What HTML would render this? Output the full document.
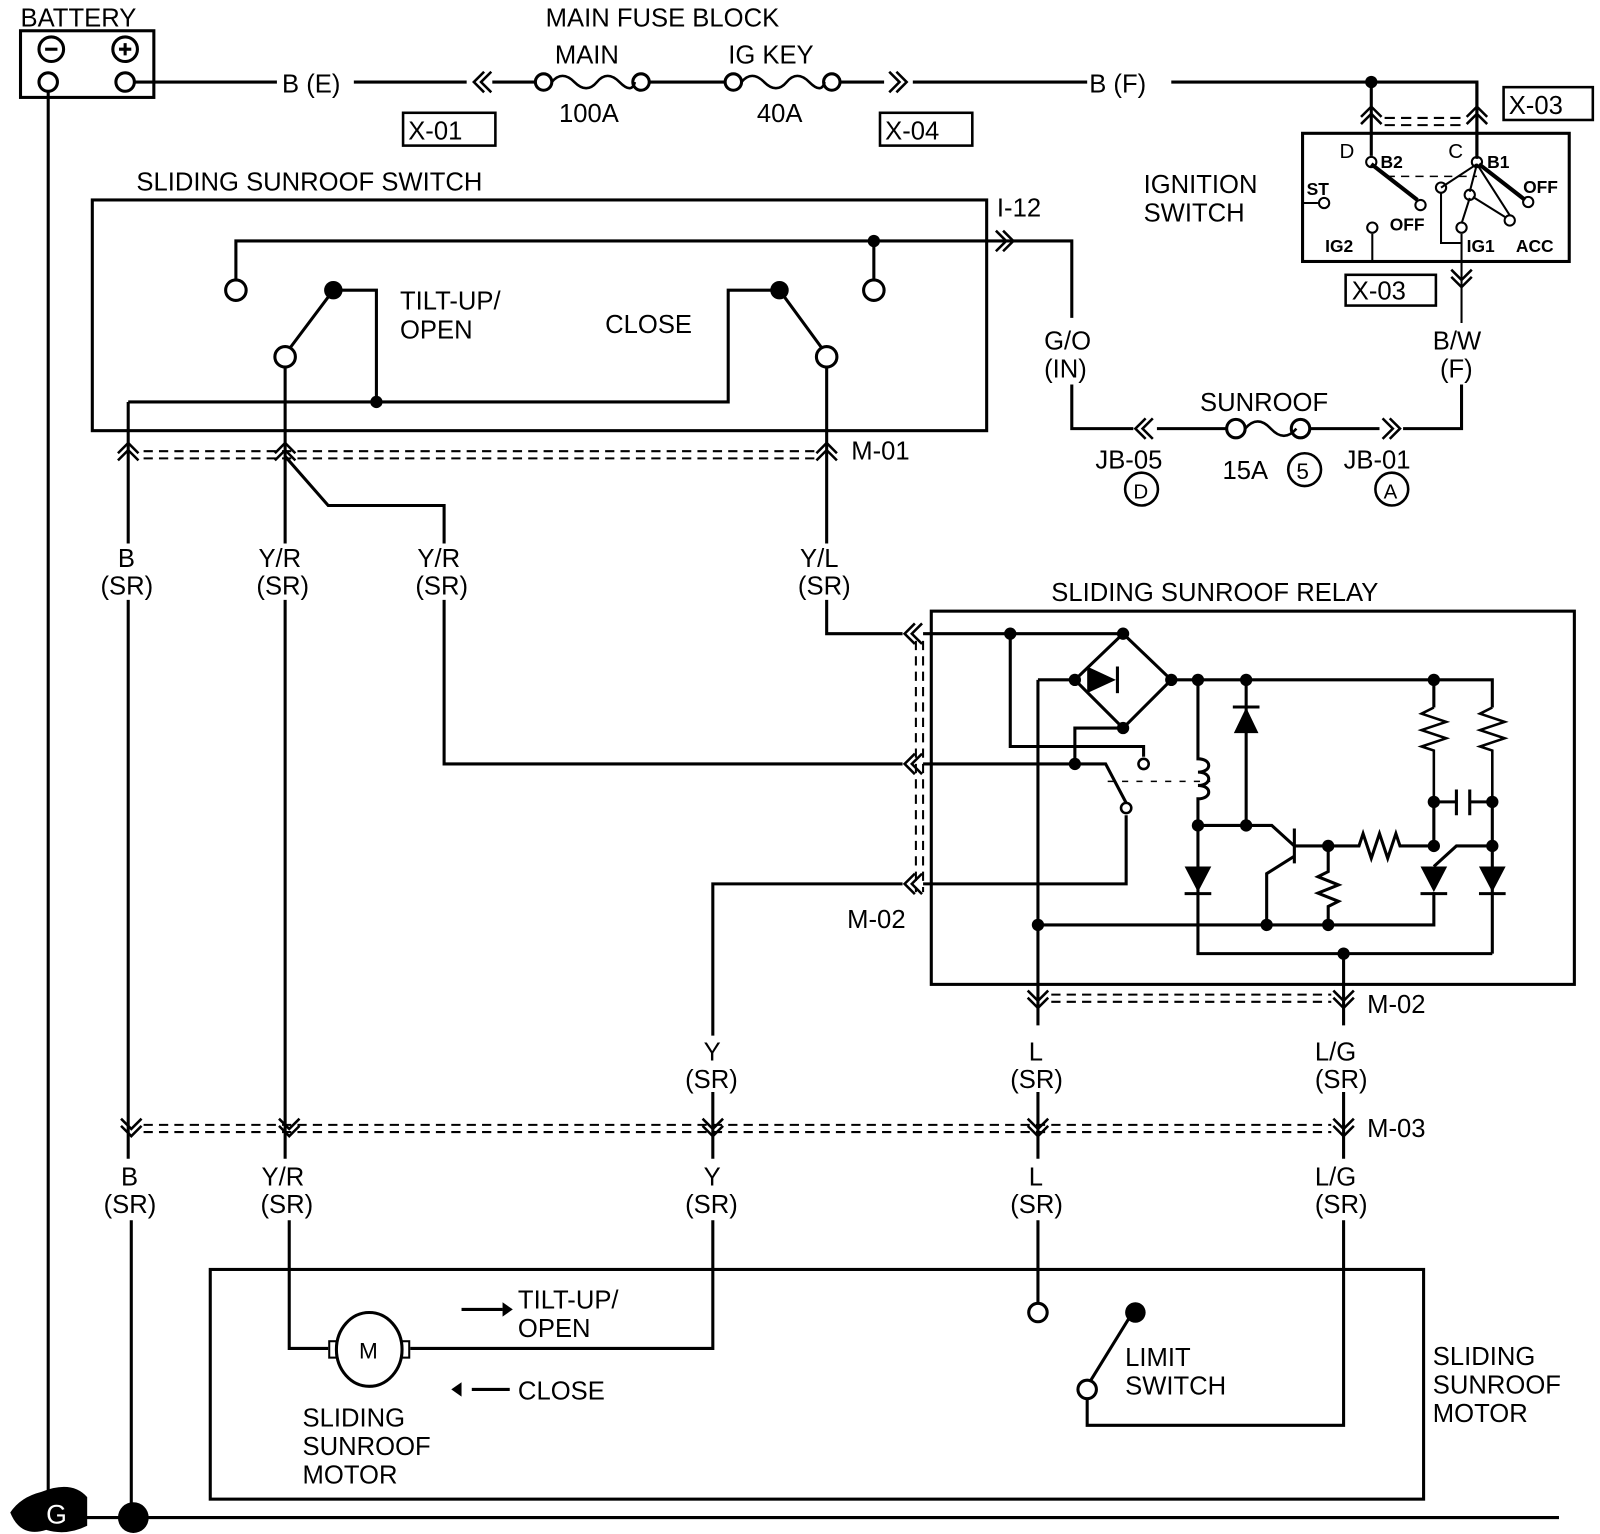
<!DOCTYPE html>
<html><head><meta charset="utf-8"><style>
html,body{margin:0;padding:0;background:#fff;}
svg{display:block;}
text{font-family:"Liberation Sans",sans-serif;font-size:25px;fill:#000;}
</style></head><body>
<svg width="1600" height="1534" viewBox="0 0 1560 1496" preserveAspectRatio="none" xmlns="http://www.w3.org/2000/svg">
<defs>
<g id="vc" fill="none" stroke="#000" stroke-width="2.5"><path d="M-10,2 L0,-8 L10,2 M-10,9 L0,-1 L10,9"/></g>
<g id="vd" fill="none" stroke="#000" stroke-width="2.5"><path d="M-10,-9 L0,1 L10,-9 M-10,-2 L0,8 L10,-2"/></g>
<g id="hl" fill="none" stroke="#000" stroke-width="2.5"><path d="M2,-10 L-8,0 L2,10 M9,-10 L-1,0 L9,10"/></g>
<g id="hr" fill="none" stroke="#000" stroke-width="2.5"><path d="M-9,-10 L1,0 L-9,10 M-2,-10 L8,0 L-2,10"/></g>
</defs>
<g fill="none" stroke="#000" stroke-width="3">
<rect x="20" y="30" width="130" height="65"/>
<circle cx="50" cy="48" r="12"/><circle cx="122" cy="48" r="12"/>
<circle cx="47" cy="80" r="9"/><circle cx="122" cy="80" r="9"/>
<path d="M131,80 H270 M345,80 H455 M480,80 H522 M633,80 H708 M819,80 H862 M890,80 H1060 M1142,80 H1440 V155"/>
<path d="M538,80 q10,-12 22,0 t22,0 t22,0 t15,0" stroke-width="2.5"/>
<circle cx="530" cy="80" r="8"/><circle cx="625" cy="80" r="8"/>
<path d="M723,80 q10,-12 22,0 t22,0 t22,0 t15,0" stroke-width="2.5"/>
<circle cx="715" cy="80" r="8"/><circle cx="811" cy="80" r="8"/>
<rect x="393" y="110" width="90" height="32" stroke-width="2.5"/>
<rect x="858" y="110" width="90" height="32" stroke-width="2.5"/>
<rect x="1466" y="85" width="87" height="32" stroke-width="2.5"/>
<rect x="1312" y="268" width="88" height="30" stroke-width="2.5"/>
<rect x="1270" y="130" width="260" height="125"/>
<path d="M1337,80 V152 M1440,80 V152"/>
<path d="M1350,115 H1430" stroke-dasharray="10,6" stroke-width="2"/>
<path d="M1350,122 H1430" stroke-dasharray="10,6" stroke-width="2"/>
<path d="M1337,160 L1382,195" stroke-width="4"/><path d="M1442,160 L1487,195" stroke-width="4"/>
<path d="M1270,198 H1285 M1338,228 V255 M1405,188 V237 H1425 M1440,160 L1405,183 M1440,160 L1433,187 M1440,160 L1472,210 M1433,193 L1425,218 M1436,192 L1468,212 M1425,228 V315" stroke-width="2"/>
<path d="M1352,172 H1440" stroke-dasharray="8,6" stroke-width="1.5"/>
<circle cx="1337" cy="158" r="5" stroke-width="2"/><circle cx="1440" cy="158" r="5" stroke-width="2"/>
<circle cx="1385" cy="200" r="5" stroke-width="2"/><circle cx="1490" cy="197" r="5" stroke-width="2"/>
<circle cx="1291" cy="198" r="5" stroke-width="2"/><circle cx="1338" cy="222" r="5" stroke-width="2"/>
<circle cx="1405" cy="183" r="5" stroke-width="2"/><circle cx="1433" cy="190" r="5" stroke-width="2"/>
<circle cx="1425" cy="222" r="5" stroke-width="2"/><circle cx="1472" cy="215" r="5" stroke-width="2"/>
<rect x="90" y="195" width="872" height="225"/>
<path d="M230,272 V235 H1045 V310 M852,235 V274 M1045,375 V418 H1105 M1128,418 H1197 M1278,418 H1345 M1368,418 H1425 V375"/>
<circle cx="230" cy="283" r="10"/><circle cx="852" cy="283" r="10"/>
<circle cx="278" cy="348" r="10"/><circle cx="806" cy="348" r="10"/>
<path d="M283,339 L325,283 H367 V392 M125,392 H710 V283 H760 L801,339"/>
<path d="M278,358 V530 M806,358 V530 M125,392 V530 M278,445 L320,493 H433 V530"/>
<path d="M140,440 H795 M140,447 H795" stroke-dasharray="9,6" stroke-width="2"/>
<path d="M1214,418 q12,-14 25,0 t25,0" stroke-width="2.5"/>
<circle cx="1205" cy="418" r="9"/><circle cx="1268" cy="418" r="9"/>
<circle cx="1272" cy="458" r="16" stroke-width="2.5"/>
<circle cx="1113" cy="477" r="16" stroke-width="2.5"/>
<circle cx="1357" cy="477" r="16" stroke-width="2.5"/>
<path d="M125,585 V1130 M278,585 V1130 M433,585 V745 H880 M806,585 V618 H880 M695,1010 V862 H880 M695,1065 V1130 M1012,1065 V1130 M1310,1065 V1130"/>
<rect x="908" y="596" width="627" height="364"/>
<path d="M893,625 V870 M900,625 V870" stroke-dasharray="9,6" stroke-width="2"/>
<path d="M900,618 H1095 M1095,618 L1142,663 L1095,710 L1048,663 Z"/>
<path d="M985,618 V728 H1115 V738 M1095,710 H1048 V745 M900,745 H1078 L1098,783 M1098,795 V862 H900"/>
<circle cx="1115" cy="745" r="5" stroke-width="2.5"/><circle cx="1098" cy="788" r="5" stroke-width="2.5"/>
<path d="M1012,663 H1048 M1012,663 V1000 M1142,663 H1455 V690 M1398,663 V690"/>
<path d="M1398,690 l-12,6 l24,8 l-24,8 l24,8 l-24,8 l12,4 V782 M1455,690 l-12,6 l24,8 l-24,8 l24,8 l-24,8 l12,4 V782" stroke-width="2.5"/>
<path d="M1398,782 H1420 M1433,782 H1455 M1420,770 V795 M1433,770 V795 M1398,782 V825 M1455,782 V930"/>
<path d="M1168,663 V740 c14,0 14,13 0,13 c14,0 14,13 0,13 c14,0 14,13 0,13 V930 H1455 M1310,930 V1000"/>
<path d="M1080,762 H1180" stroke-dasharray="6,8" stroke-width="1.5"/>
<path d="M1215,663 V805 M1168,805 H1240 L1262,825 M1262,808 V842 M1262,835 L1235,852 V902 M1262,825 H1325 l4,-12 l8,24 l8,-24 l8,24 l8,-24 l4,12 H1398 M1295,825 V850 l-10,5 l20,8 l-20,8 l20,8 l-10,5 V902 M1012,902 H1398 V870 M1398,845 L1420,825 H1455"/>
<path d="M1025,970 H1298 M1025,977 H1298" stroke-dasharray="9,6" stroke-width="2"/>
<path d="M140,1097 H1298 M140,1104 H1298" stroke-dasharray="9,6" stroke-width="2"/>
<path d="M128,1190 V1480 M282,1190 V1315 H320 M400,1315 H695 V1190 M1012,1190 V1270 M1310,1190 V1390 H1060 V1365 M1103,1282 L1063,1347"/>
<rect x="205" y="1238" width="1183" height="224"/>
<ellipse cx="360" cy="1316" rx="32" ry="36"/>
<rect x="321" y="1308" width="7" height="16" stroke-width="2"/><rect x="392" y="1308" width="7" height="16" stroke-width="2"/>
<circle cx="1012" cy="1280" r="9"/><circle cx="1060" cy="1355" r="9"/>
<path d="M450,1277 H490 M460,1355 H497"/>
<path d="M47,90 V1465 M80,1480 H1520"/>
</g>
<g fill="#000">
<path d="M44,48 h12" stroke="#000" stroke-width="3"/>
<path d="M116,48 h12 M122,42 v12" stroke="#000" stroke-width="3"/>
<circle cx="1337" cy="80" r="6"/><circle cx="852" cy="235" r="6"/><circle cx="367" cy="392" r="6"/>
<circle cx="325" cy="283" r="9"/><circle cx="760" cy="283" r="9"/>
<circle cx="985" cy="618" r="6"/><circle cx="1095" cy="618" r="6"/><circle cx="1048" cy="663" r="6"/><circle cx="1142" cy="663" r="6"/><circle cx="1095" cy="710" r="6"/>
<circle cx="1168" cy="663" r="6"/><circle cx="1215" cy="663" r="6"/><circle cx="1398" cy="663" r="6"/>
<circle cx="1048" cy="745" r="6"/><circle cx="1168" cy="805" r="6"/><circle cx="1215" cy="805" r="6"/>
<circle cx="1398" cy="782" r="6"/><circle cx="1455" cy="782" r="6"/><circle cx="1295" cy="825" r="6"/><circle cx="1398" cy="825" r="6"/><circle cx="1455" cy="825" r="6"/>
<circle cx="1012" cy="902" r="6"/><circle cx="1235" cy="902" r="6"/><circle cx="1295" cy="902" r="6"/><circle cx="1310" cy="930" r="6"/>
<circle cx="1107" cy="1280" r="10"/><circle cx="130" cy="1480" r="15"/>
<path d="M1060,650 L1088,663 L1060,676 Z"/><path d="M1088,650 h3 v26 h-3z"/>
<path d="M1203,715 L1215,690 L1227,715 Z"/><path d="M1202,688 h26 v3 h-26z"/>
<path d="M1155,845 L1181,845 L1168,870 Z"/><path d="M1155,870 h26 v3 h-26z"/>
<path d="M1385,845 L1411,845 L1398,870 Z"/><path d="M1385,870 h26 v3 h-26z"/>
<path d="M1442,845 L1468,845 L1455,870 Z"/><path d="M1442,870 h26 v3 h-26z"/>
<path d="M490,1270 L500,1277 L490,1284 Z M450,1348 L440,1355 L450,1362 Z"/>
<path d="M10,1475 q10,-15 30,-20 q30,-12 45,5 v28 q-20,10 -40,4 q-25,8 -35,-17 Z"/>
</g>
<text x="45" y="1486" style="fill:#fff;font-size:26px">G</text>
<use href="#hl" x="470" y="80"/><use href="#hr" x="876" y="80"/>
<use href="#hr" x="980" y="235"/><use href="#hl" x="1115" y="418"/><use href="#hr" x="1357" y="418"/>
<use href="#vc" x="1337" y="112"/><use href="#vc" x="1440" y="112"/><use href="#vd" x="1425" y="272"/>
<use href="#vc" x="125" y="440"/><use href="#vc" x="278" y="440"/><use href="#vc" x="806" y="440"/>
<use href="#hl" x="890" y="618"/><use href="#hl" x="890" y="745"/><use href="#hl" x="890" y="862"/>
<use href="#vd" x="1012" y="975"/><use href="#vd" x="1310" y="975"/>
<use href="#vd" x="128" y="1100"/><use href="#vd" x="282" y="1100"/><use href="#vd" x="695" y="1100"/><use href="#vd" x="1012" y="1100"/><use href="#vd" x="1310" y="1100"/>
<g>
<text x="20" y="26">BATTERY</text>
<text x="532" y="26">MAIN FUSE BLOCK</text>
<text x="541" y="62">MAIN</text><text x="710" y="62">IG KEY</text>
<text x="545" y="119">100A</text><text x="738" y="119">40A</text>
<text x="275" y="90">B (E)</text><text x="1062" y="90">B (F)</text>
<text x="398" y="136">X-01</text><text x="863" y="136">X-04</text>
<text x="1471" y="111">X-03</text><text x="1318" y="292">X-03</text>
<text x="1115" y="188">IGNITION</text><text x="1115" y="216">SWITCH</text>
<text x="1306" y="154" style="font-size:20px">D</text><text x="1412" y="154" style="font-size:20px">C</text>
<text x="1346" y="164" style="font-size:17px;font-weight:bold">B2</text><text x="1450" y="164" style="font-size:17px;font-weight:bold">B1</text>
<text x="1274" y="190" style="font-size:17px;font-weight:bold">ST</text>
<text x="1485" y="188" style="font-size:17px;font-weight:bold">OFF</text>
<text x="1355" y="225" style="font-size:17px;font-weight:bold">OFF</text>
<text x="1292" y="246" style="font-size:17px;font-weight:bold">IG2</text>
<text x="1430" y="246" style="font-size:17px;font-weight:bold">IG1</text>
<text x="1478" y="246" style="font-size:17px;font-weight:bold">ACC</text>
<text x="133" y="186">SLIDING SUNROOF SWITCH</text>
<text x="972" y="211">I-12</text>
<text x="390" y="302">TILT-UP/</text><text x="390" y="330">OPEN</text>
<text x="590" y="325">CLOSE</text>
<text x="1018" y="341">G/O</text><text x="1018" y="368">(IN)</text>
<text x="1397" y="341">B/W</text><text x="1404" y="368">(F)</text>
<text x="1170" y="401">SUNROOF</text>
<text x="1192" y="467">15A</text><text x="1264" y="467" style="font-size:22px">5</text>
<text x="1068" y="457">JB-05</text><text x="1105" y="486" style="font-size:20px">D</text>
<text x="1310" y="457">JB-01</text><text x="1349" y="486" style="font-size:20px">A</text>
<text x="830" y="448">M-01</text>
<text x="115" y="553">B</text><text x="98" y="580">(SR)</text>
<text x="252" y="553">Y/R</text><text x="250" y="580">(SR)</text>
<text x="407" y="553">Y/R</text><text x="405" y="580">(SR)</text>
<text x="780" y="553">Y/L</text><text x="778" y="580">(SR)</text>
<text x="1025" y="586">SLIDING SUNROOF RELAY</text>
<text x="826" y="905">M-02</text><text x="1333" y="988">M-02</text>
<text x="686" y="1034">Y</text><text x="668" y="1061">(SR)</text>
<text x="1003" y="1034">L</text><text x="985" y="1061">(SR)</text>
<text x="1282" y="1034">L/G</text><text x="1282" y="1061">(SR)</text>
<text x="1333" y="1109">M-03</text>
<text x="118" y="1156">B</text><text x="101" y="1183">(SR)</text>
<text x="255" y="1156">Y/R</text><text x="254" y="1183">(SR)</text>
<text x="686" y="1156">Y</text><text x="668" y="1183">(SR)</text>
<text x="1003" y="1156">L</text><text x="985" y="1183">(SR)</text>
<text x="1282" y="1156">L/G</text><text x="1282" y="1183">(SR)</text>
<text x="350" y="1325" style="font-size:22px">M</text>
<text x="505" y="1276">TILT-UP/</text><text x="505" y="1304">OPEN</text>
<text x="505" y="1365">CLOSE</text>
<text x="295" y="1391">SLIDING</text><text x="295" y="1419">SUNROOF</text><text x="295" y="1447">MOTOR</text>
<text x="1097" y="1332">LIMIT</text><text x="1097" y="1360">SWITCH</text>
<text x="1397" y="1331">SLIDING</text><text x="1397" y="1359">SUNROOF</text><text x="1397" y="1387">MOTOR</text>
</g>
</svg>
</body></html>
